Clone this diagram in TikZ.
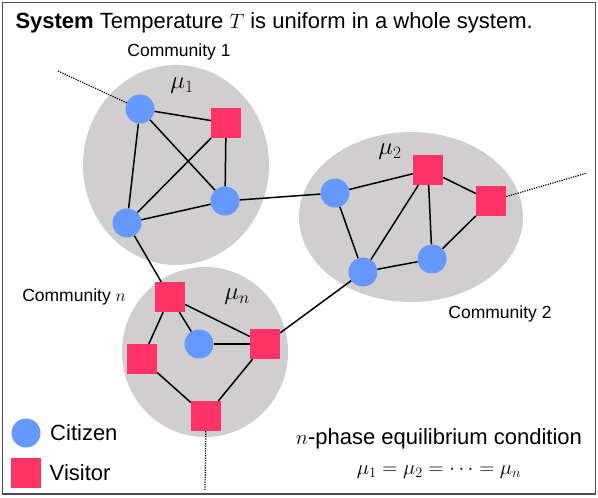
\documentclass[tikz,border=0pt]{standalone}
\usepackage{fontspec}
\setmainfont{Liberation Sans}
\usepackage{xcolor}
\usetikzlibrary{positioning}
\definecolor{citizenblue}{RGB}{102,153,255}
\definecolor{visitorred}{RGB}{255,51,102}
\definecolor{communitygray}{RGB}{208,206,206}

\begin{document}
\begin{tikzpicture}[x=1pt,y=-1pt,
    citizen/.style={circle,fill=citizenblue,minimum size=29pt,inner sep=0pt},
    visitor/.style={rectangle,fill=visitorred,minimum size=30pt,inner sep=0pt},
    link/.style={line width=1.5pt},
    outlink/.style={line width=1.2pt,dash pattern=on 1.2pt off 1.2pt},
    smalltext/.style={font=\fontsize{17.5}{20}\selectfont},
    bigtext/.style={font=\fontsize{22}{26}\selectfont},
    mutext/.style={font=\fontsize{24}{28}\selectfont}]
    \useasboundingbox (0,0) rectangle (598,498);
    \draw[line width=1.5pt,black!70] (2.5,2.5) rectangle (595.5,494);
    \node[bigtext,anchor=base west] (title) at (12,28)
      {\textbf{System} Temperature $T$ is uniform in a whole system.};

    \fill[communitygray] (176,165) ellipse [x radius=93,y radius=100];
    \fill[communitygray] (411,217) ellipse [x radius=112,y radius=85];
    \fill[communitygray] (205,352) ellipse [x radius=83,y radius=85];

    \node[smalltext] (comm1) at (179,52) {Community 1};
    \node[smalltext] (comm2) at (500,314) {Community 2};
    \node[smalltext] (commn) at (74,297) {Community $n$};
    \node[mutext] (mu1) at (182,86) {$\mu_1$};
    \node[mutext] (mu2) at (390,152) {$\mu_2$};
    \node[mutext] (mun) at (237,297) {$\mu_n$};

    \node[citizen] (cit11) at (140,109) {};
    \node[visitor] (vis11) at (226,123) {};
    \node[citizen] (cit12) at (225,201) {};
    \node[citizen] (cit13) at (127,223) {};

    \node[citizen] (cit21) at (335,193) {};
    \node[visitor] (vis21) at (428,170) {};
    \node[visitor] (vis22) at (491,201) {};
    \node[citizen] (cit22) at (432,259) {};
    \node[citizen] (cit23) at (363,272) {};

    \node[visitor] (visn1) at (170,297) {};
    \node[citizen] (citn1) at (199,344) {};
    \node[visitor] (visn2) at (265,344) {};
    \node[visitor] (visn3) at (142,359) {};
    \node[visitor] (visn4) at (206,416) {};

    \draw[link] (cit11) -- (vis11);
    \draw[link] (cit11) -- (cit12);
    \draw[link] (cit11) -- (cit13);
    \draw[link] (vis11) -- (cit12);
    \draw[link] (vis11) -- (cit13);
    \draw[link] (cit13) -- (cit12);

    \draw[link] (cit21) -- (vis21);
    \draw[link] (vis21) -- (vis22);
    \draw[link] (cit21) -- (cit23);
    \draw[link] (vis21) -- (cit23);
    \draw[link] (vis21) -- (cit22);
    \draw[link] (vis22) -- (cit22);
    \draw[link] (cit23) -- (cit22);

    \draw[link] (visn1) -- (citn1);
    \draw[link] (visn1) -- (visn2);
    \draw[link] (visn1) -- (visn3);
    \draw[link] (citn1) -- (visn2);
    \draw[link] (visn2) -- (visn4);
    \draw[link] (visn3) -- (visn4);

    \draw[link] (cit12) -- (cit21);
    \draw[link] (cit13) -- (visn1);
    \draw[link] (cit23) -- (visn2);

    \coordinate (out1) at (58,71);
    \coordinate (out2) at (587,173);
    \coordinate (outn) at (205,490);
    \draw[outlink] (cit11) -- (out1);
    \draw[outlink] (vis22) -- (out2);
    \draw[outlink] (visn4) -- (outn);

    \node[citizen] (legcit) at (26,433) {};
    \node[visitor] (legvis) at (26,473) {};
    \node[bigtext,right=6pt of legcit] (legcittext) {Citizen};
    \node[bigtext,right=5pt of legvis] (legvistext) {Visitor};

    \node[bigtext] (cond) at (439,439) {$n$-phase equilibrium condition};
    \node[bigtext] (condeq) at (439,472) {$\mu_1=\mu_2=\cdots=\mu_n$};
\end{tikzpicture}
\end{document}
